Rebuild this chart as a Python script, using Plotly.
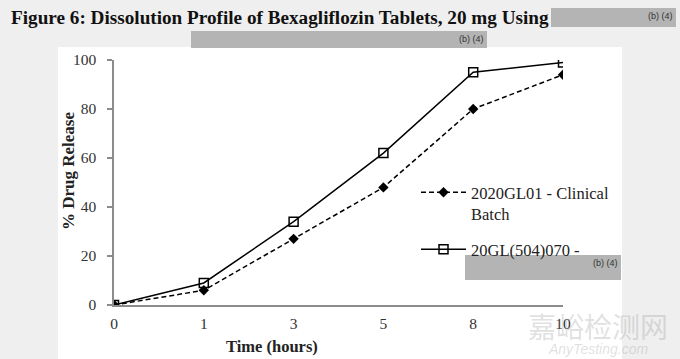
import plotly.graph_objects as go

time_labels = ["0", "1", "3", "5", "8", "10"]
clinical = [0, 6, 27, 48, 80, 94]
batch070 = [0, 9, 34, 62, 95, 99]
name_clinical = "2020GL01 - Clinical<br>Batch"
name_070 = "20GL(504)070 -"
y_ticks = [0, 20, 40, 60, 80, 100]

SERIF = "Liberation Serif"
fig = go.Figure()
fig.add_trace(go.Scatter(
    x=time_labels, y=clinical, name=name_clinical, mode="lines+markers",
    legendgroup="a",
    line=dict(color="black", width=1.5, dash="5px,3px"),
    marker=dict(symbol="diamond", size=8, color="black"),
))
fig.add_trace(go.Scatter(
    x=time_labels, y=batch070, name=name_070, mode="lines+markers",
    legendgroup="b",
    line=dict(color="black", width=1.5),
    marker=dict(symbol="square-open", size=9, color="black", line=dict(width=1.5)),
))

def px(x):
    return (x - 114) / 449

def py(y):
    return (305 - y) / 245

fig.update_layout(
    width=680, height=359,
    margin=dict(l=114, r=117, t=60, b=54),
    paper_bgcolor="#efefef", plot_bgcolor="white",
    font=dict(family=SERIF, color="#333333", size=15),
    showlegend=True,
    legend=dict(x=px(416), y=py(175), xanchor="left", yanchor="top",
                bgcolor="rgba(0,0,0,0)", font=dict(family=SERIF, size=16.5, color="#222222"),
                itemwidth=45, valign="top", traceorder="grouped", tracegroupgap=11),
    xaxis=dict(type="category", range=[0, 5], showgrid=False, zeroline=False,
               showline=True, linecolor="#8c8c8c", linewidth=1.5,
               ticks="", ticklabelstandoff=4,
               tickfont=dict(family=SERIF, size=15.5, color="#333333")),
    yaxis=dict(range=[0, 100], tickvals=y_ticks, showgrid=False, zeroline=False,
               showline=True, linecolor="#8c8c8c", linewidth=1.5,
               ticks="outside", ticklen=5, tickcolor="#8c8c8c", tickwidth=1.5,
               ticklabelstandoff=8,
               tickfont=dict(family=SERIF, size=15.5, color="#333333")),
)

# white chart area
fig.add_shape(type="rect", xref="paper", yref="paper", layer="below",
              x0=px(58), x1=px(622), y0=py(362), y1=py(47),
              fillcolor="white", line=dict(width=0))

# redaction boxes
for (x0, y0, x1, y1) in [(551, 8, 676, 27), (191, 31, 487, 48), (465, 255, 621, 280)]:
    fig.add_shape(type="rect", xref="paper", yref="paper",
                  x0=px(x0), x1=px(x1), y0=py(y1), y1=py(y0),
                  fillcolor="#b4b4b4", line=dict(width=0))
    fig.add_annotation(xref="paper", yref="paper", x=px(x1 - 1), y=py(y0 + 1),
                       xanchor="right", yanchor="top", showarrow=False,
                       text="(b) (4)", font=dict(family="Liberation Sans", size=9, color="#333333"))

fig.add_annotation(xref="paper", yref="paper", x=px(9), y=py(18), xanchor="left", yanchor="middle",
                   showarrow=False, text="<b>Figure 6: Dissolution Profile of Bexagliflozin Tablets, 20 mg Using</b>",
                   font=dict(family=SERIF, size=19.2, color="#111111"))
fig.add_annotation(xref="paper", yref="paper", x=px(272), y=py(346), xanchor="center", yanchor="middle",
                   showarrow=False, text="<b>Time (hours)</b>",
                   font=dict(family=SERIF, size=16.5, color="#222222"))
fig.add_annotation(xref="paper", yref="paper", x=px(68), y=py(171), xanchor="center", yanchor="middle",
                   showarrow=False, text="<b>% Drug Release</b>", textangle=-90,
                   font=dict(family=SERIF, size=17, color="#222222"))

# watermark
fig.add_annotation(xref="paper", yref="paper", x=px(598), y=py(326), xanchor="center", yanchor="middle",
                   showarrow=False, text="嘉峪检测网",
                   font=dict(family="Noto Sans CJK SC", size=28, color="rgba(150,150,150,0.3)"))
fig.add_annotation(xref="paper", yref="paper", x=px(598), y=py(349), xanchor="center", yanchor="middle",
                   showarrow=False, text="<i>AnyTesting.com</i>",
                   font=dict(family="Liberation Sans", size=14, color="rgba(150,150,150,0.3)"))

fig.write_html("out.html", config={"displayModeBar": False},
               post_script="document.body.style.margin='0';document.body.style.overflow='hidden';")
